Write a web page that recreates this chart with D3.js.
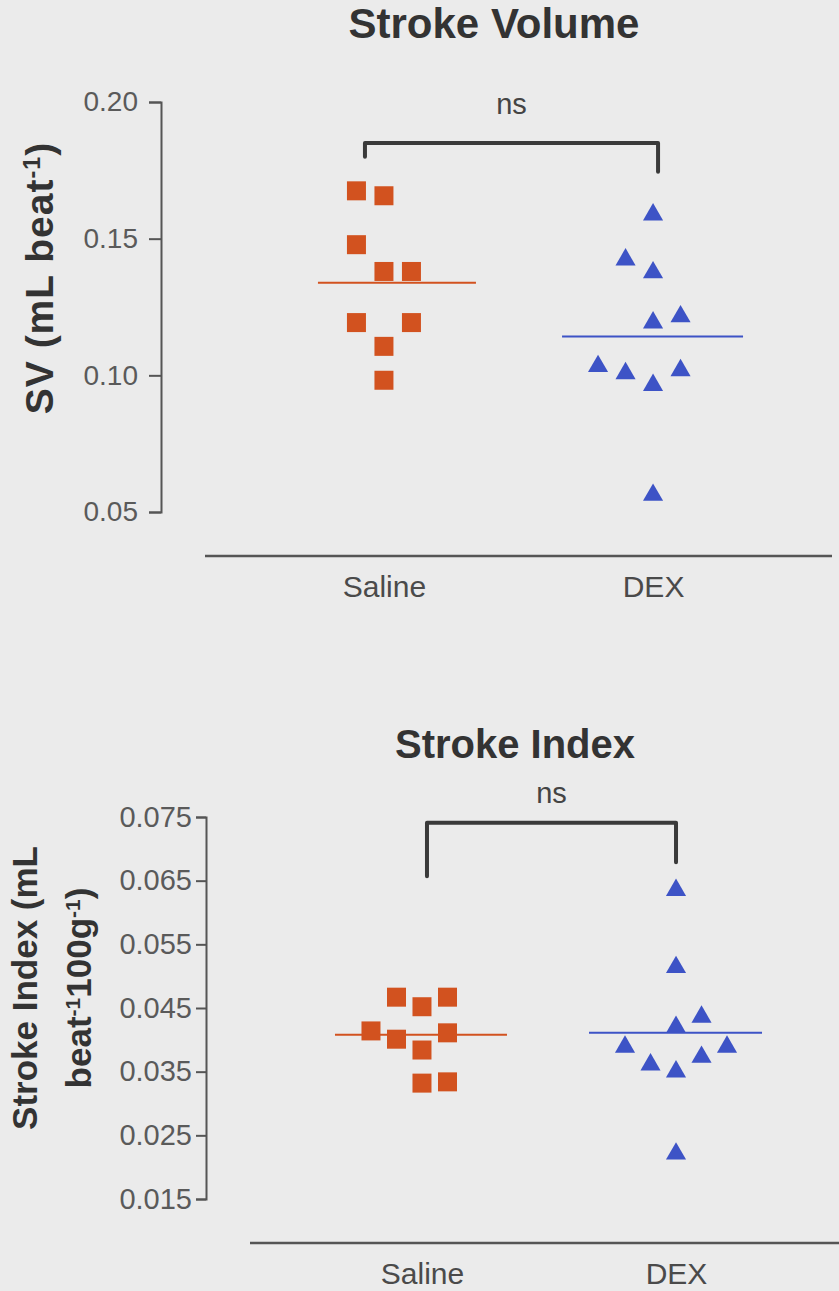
<!DOCTYPE html>
<html>
<head>
<meta charset="utf-8">
<script src="https://cdn.jsdelivr.net/npm/d3@7"></script>
<style>
  body { margin: 0; background: #ebebeb; }
  svg { display: block; }
  text { font-family: "Liberation Sans", Arial, sans-serif; }
</style>
</head>
<body>
<div id="chart"></div>
<script>
// groups on the x axis
const groups = ["Saline", "DEX"];

// Stroke Volume (mL beat-1)
const svSaline = [0.1675, 0.1657, 0.1478, 0.1380, 0.1380, 0.1193, 0.1193, 0.1106, 0.0982];
const svSalineCol = [-1, 0, -1, 0, 1, -1, 1, 0, 0];
const svDex = [0.1588, 0.1423, 0.1376, 0.1215, 0.1193, 0.1033, 0.1007, 0.0964, 0.1018, 0.0562];
const svDexCol = [0, -1, 0, 1, 0, -2, -1, 0, 1, 0];
const svMeans = [0.1339, 0.1142];
const svTicks = [0.05, 0.10, 0.15, 0.20];

// Stroke Index (mL beat-1 100g-1)
const siSaline = [0.0467, 0.0452, 0.0467, 0.0414, 0.0401, 0.0411, 0.0384, 0.0332, 0.0334];
const siSalineCol = [-1, 0, 1, -2, -1, 1, 0, 0, 1];
const siDex = [0.0635, 0.0514, 0.0436, 0.0420, 0.0389, 0.0389, 0.0361, 0.0373, 0.0350, 0.0221];
const siDexCol = [0, 0, 1, 0, -2, 2, -1, 1, 0, 0];
const siMeans = [0.0408, 0.0411];
const siTicks = [0.015, 0.025, 0.035, 0.045, 0.055, 0.065, 0.075];

const ORANGE = "#d2521f", BLUE = "#3d53c6", INK = "#555";

const svg = d3.select("#chart").append("svg")
    .attr("width", 839).attr("height", 1291);
svg.append("rect").attr("width", 839).attr("height", 1291).attr("fill", "#ebebeb");

function panel(o) {
    const g = svg.append("g");
    const x = d3.scalePoint().domain(groups).range(o.xRange).padding(o.xPad);
    const y = d3.scaleLinear().domain(o.yDomain).range(o.yRange);
    const slot = d3.scaleLinear().domain([0, 1]).range([0, o.slot]);

    // title
    g.append("text").attr("x", o.titleX).attr("y", o.titleY)
        .attr("text-anchor", "middle").attr("font-weight", "bold")
        .attr("font-size", o.titleFont).attr("fill", "#333").text(o.title);

    // y axis
    const ya = g.append("g").attr("transform", `translate(${o.yAxisX},0)`)
        .call(d3.axisLeft(y).tickValues(o.ticks).tickFormat(d3.format(o.fmt))
            .tickSize(o.tickSize).tickPadding(o.tickPad));
    ya.select(".domain").attr("stroke", INK).attr("stroke-width", 2);
    ya.selectAll(".tick line").attr("stroke", INK).attr("stroke-width", 2);
    ya.selectAll(".tick text").attr("font-size", o.tickFont).attr("fill", "#5a5a5a")
        .attr("font-family", "'Liberation Sans', Arial, sans-serif");

    // x axis: a plain line with group labels
    const xa = g.append("g").attr("transform", `translate(0,${o.xAxisY})`)
        .call(d3.axisBottom(x).tickSize(0).tickPadding(20));
    xa.select(".domain").attr("stroke", INK).attr("stroke-width", 2.5)
        .attr("d", `M${o.xRange[0]},0H${o.xRange[1]}`);
    xa.selectAll(".tick text").attr("font-size", 30).attr("fill", "#4a4a4a")
        .attr("font-family", "'Liberation Sans', Arial, sans-serif");

    // y axis title
    const lab = g.append("text").attr("text-anchor", "middle").attr("font-weight", "bold")
        .attr("font-size", o.labelFont).attr("fill", "#333")
        .attr("letter-spacing", o.labelSpacing)
        .attr("transform", `translate(${o.labelX},${o.labelY}) rotate(-90)`);
    o.label(lab);

    // significance bracket
    const b = o.bracket;
    const bx0 = x(groups[0]) + b.dx[0], bx1 = x(groups[1]) + b.dx[1];
    g.append("path")
        .attr("d", `M${bx0},${y(b.legs[0])}V${y(b.top)}H${bx1}V${y(b.legs[1])}`)
        .attr("fill", "none").attr("stroke", "#3a3a3a").attr("stroke-width", 4)
        .attr("stroke-linecap", "round").attr("stroke-linejoin", "round");
    g.append("text").attr("x", (bx0 + bx1) / 2).attr("y", y(b.ns))
        .attr("text-anchor", "middle").attr("font-size", 29).attr("fill", "#444").text("ns");

    // mean lines
    g.selectAll(".mean").data(o.means).join("line")
        .attr("x1", (d, i) => x(groups[i]) - o.meanHalf[i][0])
        .attr("x2", (d, i) => x(groups[i]) + o.meanHalf[i][1])
        .attr("y1", d => y(d)).attr("y2", d => y(d))
        .attr("stroke", (d, i) => i ? BLUE : ORANGE).attr("stroke-width", 2);

    // points
    const sq = d3.symbol().type(d3.symbolSquare).size(19 * 19);
    const tri = d3.symbol().type(d3.symbolTriangle).size(175);
    g.selectAll(".sal").data(o.saline).join("path")
        .attr("transform", (d, i) => `translate(${x(groups[0]) + slot(o.salineCol[i])},${y(d)})`)
        .attr("d", sq).attr("fill", ORANGE);
    g.selectAll(".dex").data(o.dex).join("path")
        .attr("transform", (d, i) => `translate(${x(groups[1]) + slot(o.dexCol[i])},${y(d)})`)
        .attr("d", tri).attr("fill", BLUE);
}

function sup(t, s) {
    t.append("tspan").attr("baseline-shift", "super").attr("font-size", "60%").text(s);
}

panel({
    title: "Stroke Volume", titleX: 494, titleY: 38, titleFont: 42,
    xRange: [205, 832], xPad: 0.665, xAxisY: 556,
    yDomain: [0.05, 0.20], yRange: [512, 102], yAxisX: 161,
    ticks: svTicks, fmt: ".2f", tickSize: 12, tickPad: 11, tickFont: 28,
    slot: 27.5,
    saline: svSaline, salineCol: svSalineCol, dex: svDex, dexCol: svDexCol,
    means: svMeans, meanHalf: [[66, 92], [91, 90]],
    labelX: 53, labelY: 278, labelFont: 39, labelSpacing: 1,
    label: t => { t.append("tspan").text("SV (mL beat"); sup(t, "-1"); t.append("tspan").text(")"); },
    bracket: { top: 0.185, legs: [0.180, 0.1745], dx: [-19, 5], ns: 0.1955 }
});

panel({
    title: "Stroke Index", titleX: 515, titleY: 758, titleFont: 40,
    xRange: [250, 848], xPad: 0.677, xAxisY: 1243,
    yDomain: [0.015, 0.075], yRange: [1199, 817], yAxisX: 206,
    ticks: siTicks, fmt: ".3f", tickSize: 10, tickPad: 4, tickFont: 29,
    slot: 25.5,
    saline: siSaline, salineCol: siSalineCol, dex: siDex, dexCol: siDexCol,
    means: siMeans, meanHalf: [[87, 85], [87, 86]],
    labelX: 0, labelY: 988, labelFont: 35, labelSpacing: 0,
    label: t => {
        t.append("tspan").attr("x", 0).attr("y", 37).text("Stroke Index (mL");
        t.append("tspan").attr("x", 0).attr("y", 91).text("beat");
        sup(t, "-1");
        t.append("tspan").text("100g");
        sup(t, "-1");
        t.append("tspan").text(")");
    },
    bracket: { top: 0.0741, legs: [0.0657, 0.0679], dx: [5, 0], ns: 0.0772 }
});
</script>
</body>
</html>
